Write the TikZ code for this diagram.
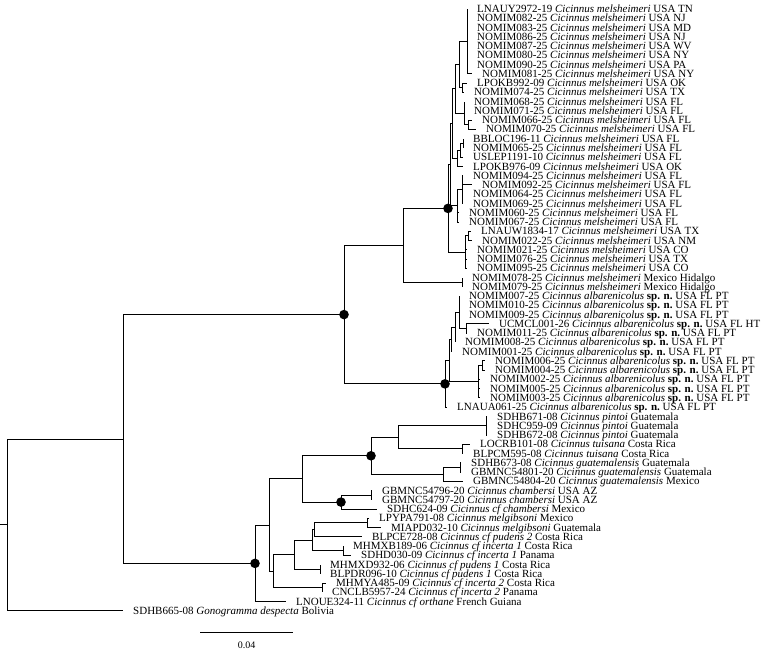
\documentclass[tikz,border=0pt]{standalone}
\usepackage{fontspec}
\setmainfont{Liberation Serif}

\newcommand{\melsh}{\textit{Cicinnus melsheimeri}}
\newcommand{\albar}{\textit{Cicinnus albarenicolus} \textbf{sp. n.}}

\begin{document}
\begin{tikzpicture}[
        x=1pt, y=-1pt,
        tip/.style={anchor=west, inner xsep=10pt, inner ysep=0pt, text height=8pt, text depth=0.8pt, font=\fontsize{11}{11}\selectfont},
        branch/.style={line width=0.9pt},
        support/.style={fill=black}
    ]
        \path[use as bounding box, fill=white] (0,0) rectangle (780,652);

        % tips, top to bottom
        \node[tip] (t1) at (467,9.00) {LNAUY2972-19 \melsh\ USA TN};
        \node[tip] (t2) at (467,18.26) {NOMIM082-25 \melsh\ USA NJ};
        \node[tip] (t3) at (467,27.52) {NOMIM083-25 \melsh\ USA MD};
        \node[tip] (t4) at (467,36.78) {NOMIM086-25 \melsh\ USA NJ};
        \node[tip] (t5) at (467,46.04) {NOMIM087-25 \melsh\ USA WV};
        \node[tip] (t6) at (467,55.30) {NOMIM080-25 \melsh\ USA NY};
        \node[tip] (t7) at (467,64.56) {NOMIM090-25 \melsh\ USA PA};
        \node[tip] (t8) at (472,73.82) {NOMIM081-25 \melsh\ USA NY};
        \node[tip] (t9) at (467,83.08) {LPOKB992-09 \melsh\ USA OK};
        \node[tip] (t10) at (464,92.34) {NOMIM074-25 \melsh\ USA TX};
        \node[tip] (t11) at (464,101.60) {NOMIM068-25 \melsh\ USA FL};
        \node[tip] (t12) at (464,110.86) {NOMIM071-25 \melsh\ USA FL};
        \node[tip] (t13) at (472,120.12) {NOMIM066-25 \melsh\ USA FL};
        \node[tip] (t14) at (476,129.38) {NOMIM070-25 \melsh\ USA FL};
        \node[tip] (t15) at (463,138.64) {BBLOC196-11 \melsh\ USA FL};
        \node[tip] (t16) at (463,147.90) {NOMIM065-25 \melsh\ USA FL};
        \node[tip] (t17) at (463,157.16) {USLEP1191-10 \melsh\ USA FL};
        \node[tip] (t18) at (463,166.42) {LPOKB976-09 \melsh\ USA OK};
        \node[tip] (t19) at (463,175.68) {NOMIM094-25 \melsh\ USA FL};
        \node[tip] (t20) at (472,184.94) {NOMIM092-25 \melsh\ USA FL};
        \node[tip] (t21) at (463,194.20) {NOMIM064-25 \melsh\ USA FL};
        \node[tip] (t22) at (463,203.46) {NOMIM069-25 \melsh\ USA FL};
        \node[tip] (t23) at (459,212.72) {NOMIM060-25 \melsh\ USA FL};
        \node[tip] (t24) at (459,221.98) {NOMIM067-25 \melsh\ USA FL};
        \node[tip] (t25) at (471,231.24) {LNAUW1834-17 \melsh\ USA TX};
        \node[tip] (t26) at (472,240.50) {NOMIM022-25 \melsh\ USA NM};
        \node[tip] (t27) at (467,249.76) {NOMIM021-25 \melsh\ USA CO};
        \node[tip] (t28) at (467,259.02) {NOMIM076-25 \melsh\ USA TX};
        \node[tip] (t29) at (467,268.28) {NOMIM095-25 \melsh\ USA CO};
        \node[tip] (t30) at (462,277.54) {NOMIM078-25 \melsh\ Mexico Hidalgo};
        \node[tip] (t31) at (462,286.80) {NOMIM079-25 \melsh\ Mexico Hidalgo};
        \node[tip] (t32) at (459,296.06) {NOMIM007-25 \albar\ USA FL PT};
        \node[tip] (t33) at (459,305.32) {NOMIM010-25 \albar\ USA FL PT};
        \node[tip] (t34) at (459,314.58) {NOMIM009-25 \albar\ USA FL PT};
        \node[tip] (t35) at (489,323.84) {UCMCL001-26 \albar\ USA FL HT};
        \node[tip] (t36) at (467,333.10) {NOMIM011-25 \albar\ USA FL PT};
        \node[tip] (t37) at (455,342.36) {NOMIM008-25 \albar\ USA FL PT};
        \node[tip] (t38) at (452,351.62) {NOMIM001-25 \albar\ USA FL PT};
        \node[tip] (t39) at (485,360.88) {NOMIM006-25 \albar\ USA FL PT};
        \node[tip] (t40) at (485,370.14) {NOMIM004-25 \albar\ USA FL PT};
        \node[tip] (t41) at (480,379.40) {NOMIM002-25 \albar\ USA FL PT};
        \node[tip] (t42) at (480,388.66) {NOMIM005-25 \albar\ USA FL PT};
        \node[tip] (t43) at (480,397.92) {NOMIM003-25 \albar\ USA FL PT};
        \node[tip] (t44) at (447,407.18) {LNAUA061-25 \albar\ USA FL PT};
        \node[tip] (t45) at (487,416.44) {SDHB671-08 \textit{Cicinnus pintoi} Guatemala};
        \node[tip] (t46) at (487,425.70) {SDHC959-09 \textit{Cicinnus pintoi} Guatemala};
        \node[tip] (t47) at (487,434.96) {SDHB672-08 \textit{Cicinnus pintoi} Guatemala};
        \node[tip] (t48) at (470,444.22) {LOCRB101-08 \textit{Cicinnus tuisana} Costa Rica};
        \node[tip] (t49) at (463,453.48) {BLPCM595-08 \textit{Cicinnus tuisana} Costa Rica};
        \node[tip] (t50) at (461,462.74) {SDHB673-08 \textit{Cicinnus guatemalensis} Guatemala};
        \node[tip] (t51) at (461,472.00) {GBMNC54801-20 \textit{Cicinnus guatemalensis} Guatemala};
        \node[tip] (t52) at (463,481.26) {GBMNC54804-20 \textit{Cicinnus guatemalensis} Mexico};
        \node[tip] (t53) at (372,490.52) {GBMNC54796-20 \textit{Cicinnus chambersi} USA AZ};
        \node[tip] (t54) at (372,499.78) {GBMNC54797-20 \textit{Cicinnus chambersi} USA AZ};
        \node[tip] (t55) at (377,509.04) {SDHC624-09 \textit{Cicinnus cf chambersi} Mexico};
        \node[tip] (t56) at (369,518.30) {LPYPA791-08 \textit{Cicinnus melgibsoni} Mexico};
        \node[tip] (t57) at (381,527.56) {MIAPD032-10 \textit{Cicinnus melgibsoni} Guatemala};
        \node[tip] (t58) at (362,536.82) {BLPCE728-08 \textit{Cicinnus cf pudens 2} Costa Rica};
        \node[tip] (t59) at (343,546.08) {MHMXB189-06 \textit{Cicinnus cf incerta 1} Costa Rica};
        \node[tip] (t60) at (351,555.34) {SDHD030-09 \textit{Cicinnus cf incerta 1} Panama};
        \node[tip] (t61) at (320,564.60) {MHMXD932-06 \textit{Cicinnus cf pudens 1} Costa Rica};
        \node[tip] (t62) at (320,573.86) {BLPDR096-10 \textit{Cicinnus cf pudens 1} Costa Rica};
        \node[tip] (t63) at (326,583.12) {MHMYA485-09 \textit{Cicinnus cf incerta 2} Costa Rica};
        \node[tip] (t64) at (322,592.38) {CNCLB5957-24 \textit{Cicinnus cf incerta 2} Panama};
        \node[tip] (t65) at (286,601.64) {LNOUE324-11 \textit{Cicinnus cf orthane} French Guiana};
        \node[tip] (t66) at (123,610.90) {SDHB665-08 \textit{Gonogramma despecta} Bolivia};

        % internal nodes
        \coordinate (G1) at (467,41.41);
        \coordinate (G2) at (462,87.71);
        \coordinate (G12) at (459,64.56);
        \coordinate (G3b) at (468,124.75);
        \coordinate (G3) at (464,113.18);
        \coordinate (G123) at (455,88.87);
        \coordinate (G4b) at (463,143.27);
        \coordinate (G4) at (460,150.22);
        \coordinate (G45) at (457,158.32);
        \coordinate (K1) at (452,123.60);
        \coordinate (K2a) at (462,189.57);
        \coordinate (K2) at (457,205.78);
        \coordinate (K) at (450,164.69);
        \coordinate (Wp) at (468,235.87);
        \coordinate (W) at (465,252.08);
        \coordinate (C) at (448,208.39);
        \coordinate (Mx) at (462,282.17);
        \coordinate (M) at (403,245.28);
        \coordinate (T1p) at (466,328.47);
        \coordinate (T1) at (459,312.27);
        \coordinate (T2) at (455,327.30);
        \coordinate (T3) at (451,339.46);
        \coordinate (Mp) at (482,365.51);
        \coordinate (Mc) at (478,381.70);
        \coordinate (X) at (449,360.58);
        \coordinate (Al) at (445,383.88);
        \coordinate (A) at (344,314.58);
        \coordinate (Pin) at (486,425.70);
        \coordinate (Tui) at (462,448.85);
        \coordinate (Q) at (398,437.28);
        \coordinate (Gp) at (460,467.37);
        \coordinate (G) at (443,474.32);
        \coordinate (P) at (371,455.80);
        \coordinate (Chp) at (371,495.15);
        \coordinate (Ch) at (341,502.10);
        \coordinate (U) at (302,478.95);
        \coordinate (L3p) at (367,522.93);
        \coordinate (L3) at (314,529.88);
        \coordinate (L2p) at (343,550.71);
        \coordinate (L2) at (312,540.30);
        \coordinate (L1p) at (320,569.23);
        \coordinate (L1) at (294,554.77);
        \coordinate (Lp) at (322,587.75);
        \coordinate (L) at (273,571.26);
        \coordinate (N1) at (269,525.10);
        \coordinate (B) at (255,563.37);
        \coordinate (I) at (123,438.98);
        \coordinate (R) at (7,524.94);
        \coordinate (root) at (0,524.94);

        % branches
        \draw[branch] (G1) |- (t1) (G1) |- (t2) (G1) |- (t3) (G1) |- (t4)
            (G1) |- (t5) (G1) |- (t6) (G1) |- (t7) (G1) |- (t8);
        \draw[branch] (G2) |- (t9) (G2) |- (t10) (G12) |- (G1) (G12) |- (G2);
        \draw[branch] (G3b) |- (t13) (G3b) |- (t14) (G3) |- (t11) (G3) |- (t12) (G3) |- (G3b);
        \draw[branch] (G123) |- (G12) (G123) |- (G3);
        \draw[branch] (G4b) |- (t15) (G4b) |- (t16) (G4) |- (G4b) (G4) |- (t17);
        \draw[branch] (G45) |- (G4) (G45) |- (t18) (K1) |- (G123) (K1) |- (G45);
        \draw[branch] (K2a) |- (t19) (K2a) |- (t20) (K2a) |- (t21) (K2a) |- (t22);
        \draw[branch] (K2) |- (K2a) (K2) |- (t23) (K2) |- (t24) (K) |- (K1) (K) |- (K2);
        \draw[branch] (Wp) |- (t25) (Wp) |- (t26) (W) |- (Wp) (W) |- (t27) (W) |- (t28) (W) |- (t29);
        \draw[branch] (C) |- (K) (C) |- (W) (Mx) |- (t30) (Mx) |- (t31) (M) |- (C) (M) |- (Mx);
        \draw[branch] (T1p) |- (t35) (T1p) |- (t36) (T1) |- (t32) (T1) |- (t33) (T1) |- (t34) (T1) |- (T1p);
        \draw[branch] (T2) |- (T1) (T2) |- (t37) (T3) |- (T2) (T3) |- (t38);
        \draw[branch] (Mp) |- (t39) (Mp) |- (t40) (Mc) |- (Mp) (Mc) |- (t41) (Mc) |- (t42) (Mc) |- (t43);
        \draw[branch] (X) |- (T3) (X) |- (Mc) (Al) |- (X) (Al) |- (t44) (A) |- (M) (A) |- (Al);
        \draw[branch] (Pin) |- (t45) (Pin) |- (t46) (Pin) |- (t47) (Tui) |- (t48) (Tui) |- (t49);
        \draw[branch] (Q) |- (Pin) (Q) |- (Tui) (Gp) |- (t50) (Gp) |- (t51) (G) |- (Gp) (G) |- (t52);
        \draw[branch] (P) |- (Q) (P) |- (G) (Chp) |- (t53) (Chp) |- (t54) (Ch) |- (Chp) (Ch) |- (t55);
        \draw[branch] (U) |- (P) (U) |- (Ch);
        \draw[branch] (L3p) |- (t56) (L3p) |- (t57) (L3) |- (L3p) (L3) |- (t58);
        \draw[branch] (L2p) |- (t59) (L2p) |- (t60) (L2) |- (L3) (L2) |- (L2p);
        \draw[branch] (L1p) |- (t61) (L1p) |- (t62) (L1) |- (L2) (L1) |- (L1p);
        \draw[branch] (Lp) |- (t63) (Lp) |- (t64) (L) |- (L1) (L) |- (Lp);
        \draw[branch] (N1) |- (U) (N1) |- (L) (B) |- (N1) (B) |- (t65);
        \draw[branch] (I) |- (A) (I) |- (B) (R) |- (I) (R) |- (t66) (root) -- (R);

        % supported nodes
        \foreach \n in {C,A,Al,P,Ch,B}
            \fill[support] (\n) circle (4.8pt);

        % scale bar
        \coordinate (sbl) at (200,632);
        \coordinate (sbr) at (293,632);
        \draw[branch] (sbl) -- (sbr);
        \node[font=\fontsize{10}{10}\selectfont, inner sep=0pt] (sblab) at (246.5,645) {0.04};
    \end{tikzpicture}
\end{document}
